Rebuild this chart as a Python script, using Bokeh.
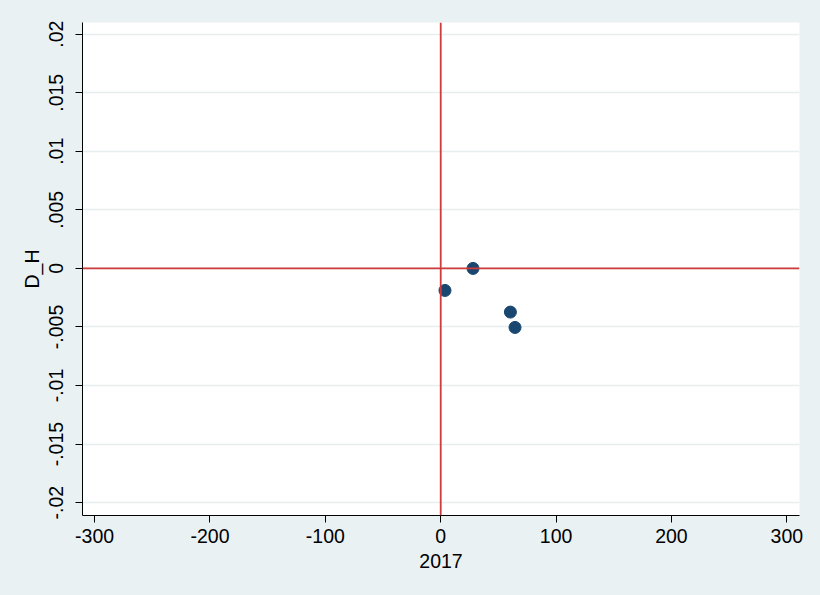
from bokeh.plotting import figure
from bokeh.models import FixedTicker, Span, Range1d
from bokeh.embed import file_html
from bokeh.resources import INLINE

# data
x_vals = [3.7, 28.0, 60.4, 64.4]
y_vals = [-0.00188, 0.0, -0.00373, -0.00504]

x_ticks = [-300, -200, -100, 0, 100, 200, 300]
x_tick_labels = ["-300", "-200", "-100", "0", "100", "200", "300"]
y_ticks = [-0.02, -0.015, -0.01, -0.005, 0.0, 0.005, 0.01, 0.015, 0.02]
y_tick_labels = ["-.02", "-.015", "-.01", "-.005", "0", ".005", ".01", ".015", ".02"]

BG = "#eaf1f3"
FONT = "Liberation Sans"

p = figure(width=820, height=595, output_backend="svg", toolbar_location=None,
           x_range=Range1d(-310.5, 311), y_range=Range1d(-0.0211, 0.0210),
           min_border_left=82, min_border_right=21, min_border_top=22, min_border_bottom=80)
p.background_fill_color = "white"
p.border_fill_color = BG
p.outline_line_color = None

p.xaxis.ticker = FixedTicker(ticks=x_ticks)
p.xaxis.major_label_overrides = {t: l for t, l in zip(x_ticks, x_tick_labels)}
p.yaxis.ticker = FixedTicker(ticks=y_ticks)
p.yaxis.major_label_overrides = {t: l for t, l in zip(y_ticks, y_tick_labels)}
p.yaxis.major_label_orientation = "vertical"

for ax in (p.xaxis, p.yaxis):
    ax.axis_line_color = "black"
    ax.major_tick_line_color = "black"
    ax.major_tick_out = 7
    ax.major_tick_in = 0
    ax.minor_tick_line_color = None
    ax.major_label_text_font = FONT
    ax.major_label_text_font_size = "19.5px"
    ax.major_label_text_color = "black"
    ax.axis_label_text_font = FONT
    ax.axis_label_text_font_size = "19.5px"
    ax.axis_label_text_font_style = "normal"
    ax.axis_label_text_color = "black"

p.xaxis.axis_label = "2017"
p.yaxis.axis_label = "D_H"
p.xaxis.major_label_standoff = 6
p.yaxis.major_label_standoff = 12
p.xaxis.axis_label_standoff = 8
p.yaxis.axis_label_standoff = 4

p.xgrid.grid_line_color = None
p.ygrid.grid_line_color = "#e6eef0"
p.ygrid.grid_line_width = 1.5

p.add_layout(Span(location=0, dimension="height", line_color="#cf3a3a", line_width=1.8))
p.add_layout(Span(location=0, dimension="width", line_color="#cf3a3a", line_width=1.8))

p.scatter(x_vals, y_vals, size=12, color="#1a476f")

html = file_html(p, INLINE)
html = html.replace("</head>", "<style>html,body{background:%s;}</style></head>" % BG, 1)
open("out.html", "w").write(html)
